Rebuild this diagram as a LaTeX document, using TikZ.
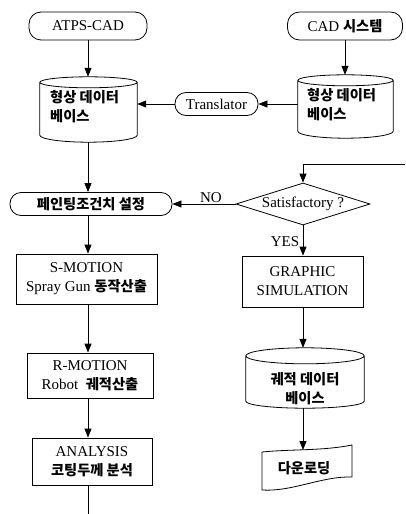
\documentclass[tikz,border=0pt]{standalone}
\usepackage{fontspec}
\setmainfont{Liberation Serif}
\newfontfamily\kr{Noto Sans CJK KR}[Scale=0.95]
\usetikzlibrary{arrows.meta,shapes.geometric,calc}
\newcommand\mycyl[3]{%
 \draw[line width=0.8pt] let \p1=(#1.north west), \p2=(#1.south east), \n1={(\x2-\x1)/2} in
 (\x1,\y1-#2) -- (\x1,\y2+#3) arc[start angle=180,end angle=360,x radius=\n1,y radius=#3]
 -- (\x2,\y1-#2) arc[start angle=0,end angle=180,x radius=\n1,y radius=#2]
 arc[start angle=180,end angle=360,x radius=\n1,y radius=#2];}
\begin{document}
\begin{tikzpicture}[x=1pt,y=-1pt,
 every node/.style={font=\fontsize{15}{19}\selectfont, inner sep=0pt},
 krt/.style={font=\kr\bfseries\fontsize{15}{19}\selectfont},
 term/.style={draw, line width=0.8pt, rounded corners=12pt},
 proc/.style={draw, line width=0.8pt, align=center},
 body/.style={inner sep=0pt},
 arr/.style={line width=0.8pt, -{Triangle[length=9pt,width=7pt]}},
 ln/.style={line width=0.8pt}]
\useasboundingbox (0,0) rectangle (405,514);
% top terminals
\node[term, minimum width=118pt, minimum height=28pt] (atps) at (88,26) {ATPS-CAD};
\node[term, minimum width=115pt, minimum height=28pt] (cads) at (345,26) {CAD {\kr\bfseries 시스템}};
% cylinders (bodies)
\node[body, minimum width=97pt, minimum height=65pt] (cylL) at (88.5,109.5) {};
\node[body, minimum width=95pt, minimum height=63pt] (cylR) at (345.5,106.5) {};
\node[body, minimum width=118pt, minimum height=60pt] (cylD) at (305,378) {};
\mycyl{cylL}{5.5pt}{7pt}
\mycyl{cylR}{5.5pt}{7pt}
\mycyl{cylD}{8pt}{7pt}
\node[krt, align=left, anchor=west] (tL) at (50,107) {형상 데이터\\베이스};
\node[krt, align=left, anchor=west] (tR) at (307,105) {형상 데이터\\베이스};
\node[krt, align=center] (tD) at (305,389) {궤적 데이터\\베이스};
% translator
\node[term, rounded corners=11pt, minimum width=83pt, minimum height=23pt] (trans) at (216.5,104) {Translator};
% painting condition
\node[term, krt, rounded corners=11pt, minimum width=162pt, minimum height=23pt] (paint) at (91,204) {페인팅조건치 설정};
% decision
\node[draw, diamond, line width=0.8pt, aspect=3.2, minimum width=134pt, minimum height=42pt, inner sep=0pt] (sat) at (303,204) {Satisfactory ?};
% process boxes
\node[proc, minimum width=141pt, minimum height=50pt] (smo) at (86.5,279) {S-MOTION\\Spray Gun {\kr\bfseries 동작산출}};
\node[proc, minimum width=121pt, minimum height=51pt] (gra) at (302.5,281.5) {GRAPHIC\\SIMULATION};
\node[proc, minimum width=126pt, minimum height=45pt] (rmo) at (90,375.5) {R-MOTION\\Robot\ \ {\kr\bfseries 궤적산출}};
\node[proc, minimum width=120pt, minimum height=47pt] (ana) at (92,461.5) {ANALYSIS\\{\kr\bfseries 코팅두께 분석}};
% download shape
\node[krt] (dl) at (304,468) {다운로딩};
\draw[line width=0.8pt] (262,452) .. controls (292,449) and (322,451) .. (352,445) -- (352,477)
  .. controls (322,476) and (292,492) .. (262,490) -- cycle;
% labels
\node (no) at (211,198) {NO};
\node (yes) at (285,242) {YES};
% connectors
\coordinate (fb) at (405,164);
\coordinate (dtop) at (303,450);
\coordinate (out) at (88,514);
\draw[arr] (atps.south) -- (atps.south |- cylL.north);
\draw[arr] (cads.south) -- (cads.south |- cylR.north);
\draw[arr] (cylR.west |- trans.east) -- (trans.east);
\draw[arr] (trans.west) -- (trans.west -| cylL.east);
\draw[arr] (atps.south |- cylL.south) -- (atps.south |- paint.north);
\draw[arr] (fb) -- (fb -| sat.north) -- (sat.north);
\draw[arr] (sat.west) -- (paint.east);
\draw[arr] (atps.south |- paint.south) -- (atps.south |- smo.north);
\draw[arr] (atps.south |- smo.south) -- (atps.south |- rmo.north);
\draw[arr] (atps.south |- rmo.south) -- (atps.south |- ana.north);
\draw[ln] (ana.south -| out) -- (out);
\draw[arr] (sat.south) -- (sat.south |- gra.north);
\draw[arr] (sat.south |- gra.south) -- (sat.south |- cylD.north);
\draw[arr] (sat.south |- cylD.south) -- (dtop);
\end{tikzpicture}
\end{document}
